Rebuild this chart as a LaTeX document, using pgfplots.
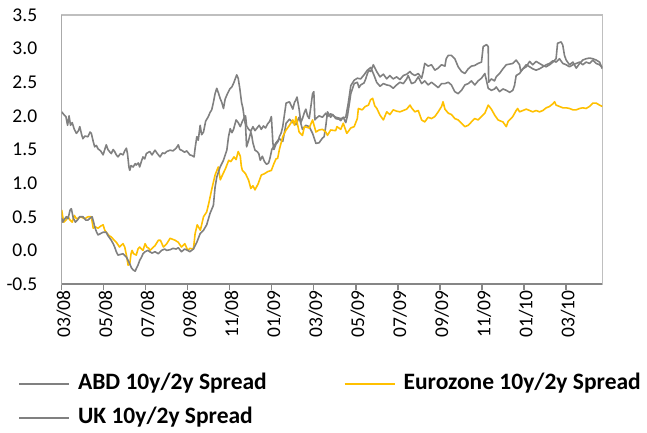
\documentclass[border=0pt]{standalone}
\usepackage{pgfplots}
\pgfplotsset{compat=1.18}
\usepackage{fontspec}
\setmainfont{Carlito}
\definecolor{sergray}{HTML}{808080}
\definecolor{sergold}{HTML}{FFC000}
\definecolor{axdark}{HTML}{868686}
\definecolor{axlight}{HTML}{BFBFBF}
\begin{document}
\begin{tikzpicture}
\path[use as bounding box] (0,0) rectangle (647pt,432pt);
\begin{axis}[
 at={(61.7pt,148pt)}, anchor=south west,
 width=540.6pt, height=269pt, scale only axis,
 xmin=0, xmax=25.73, ymin=-0.5, ymax=3.5,
 axis line style={draw=axlight, line width=1.2pt},
 xtick={0,2,...,24},
 xticklabels={03/08,05/08,07/08,09/08,11/08,01/09,03/09,05/09,07/09,09/09,11/09,01/10,03/10},
 ytick={-0.5,0,0.5,1,1.5,2,2.5,3,3.5},
 yticklabels={-0.5,0.0,0.5,1.0,1.5,2.0,2.5,3.0,3.5},
 xtick pos=bottom, tick align=outside,
 major tick length=6pt,
 xtick style={draw=axdark, line width=1.3pt},
 ytick style={draw=none},
 ticklabel style={font=\fontsize{19.5}{23}\selectfont, text=black},
 xticklabel style={rotate=90, anchor=east, xshift=3pt, yshift=-2pt},
 yticklabel style={xshift=-15pt},
 legend columns=2,
 legend cell align=left,
 legend style={at={(-0.0808,-0.327)}, anchor=north west, draw=none, fill=none,
   inner sep=0pt, column sep=8pt, row sep=11pt,
   font=\fontsize{23.5}{28}\selectfont\bfseries,
   nodes={inner sep=0pt, text height=17pt, text depth=6pt},
   /tikz/every even column/.append style={column sep=77pt}},
 legend image code/.code={\draw[#1, line width=1.8pt] (0pt,0pt) -- (50pt,0pt);},
 legend image post style={line width=1.8pt},
 every axis plot/.append style={line width=1.6pt, line join=round},
]
\addplot[sergray] coordinates {(0,2.06)(0.1,2.02)(0.2,1.99)(0.28,1.86)(0.35,2.0)(0.42,1.86)(0.5,1.9)(0.6,1.8)(0.7,1.74)(0.8,1.78)(0.86,1.84)(0.95,1.72)(1.01,1.66)(1.1,1.7)(1.25,1.69)(1.35,1.76)(1.41,1.74)(1.5,1.62)(1.57,1.54)(1.65,1.56)(1.73,1.51)(1.85,1.48)(1.97,1.42)(2.05,1.5)(2.12,1.57)(2.2,1.5)(2.3,1.46)(2.36,1.44)(2.45,1.5)(2.52,1.47)(2.6,1.42)(2.68,1.39)(2.8,1.44)(2.92,1.42)(3.0,1.48)(3.08,1.52)(3.13,1.44)(3.2,1.24)(3.24,1.19)(3.3,1.26)(3.4,1.24)(3.5,1.29)(3.55,1.27)(3.65,1.3)(3.71,1.24)(3.8,1.33)(3.87,1.39)(3.95,1.36)(4.03,1.44)(4.19,1.47)(4.3,1.42)(4.44,1.49)(4.55,1.44)(4.68,1.39)(4.8,1.45)(4.9,1.44)(5.0,1.47)(5.16,1.49)(5.3,1.48)(5.45,1.52)(5.55,1.57)(5.62,1.5)(5.7,1.49)(5.85,1.46)(5.95,1.48)(6.1,1.42)(6.2,1.41)(6.3,1.39)(6.35,1.52)(6.43,1.69)(6.5,1.64)(6.59,1.86)(6.66,1.72)(6.75,1.76)(6.85,1.92)(6.98,1.99)(7.06,2.05)(7.14,2.09)(7.22,2.2)(7.3,2.33)(7.38,2.41)(7.46,2.34)(7.54,2.26)(7.62,2.2)(7.7,2.11)(7.78,2.25)(7.86,2.31)(8.0,2.4)(8.1,2.43)(8.2,2.5)(8.33,2.61)(8.4,2.56)(8.48,2.4)(8.56,2.2)(8.62,2.12)(8.7,1.95)(8.75,1.86)(8.8,1.54)(8.9,1.64)(9.0,1.76)(9.05,1.7)(9.1,1.6)(9.2,1.49)(9.3,1.47)(9.38,1.44)(9.45,1.34)(9.55,1.4)(9.65,1.32)(9.75,1.28)(9.85,1.3)(9.92,1.38)(10.0,1.5)(10.1,1.55)(10.2,1.6)(10.36,1.66)(10.52,1.62)(10.6,1.75)(10.68,1.89)(10.84,1.95)(11.0,1.9)(11.15,1.87)(11.3,1.98)(11.46,1.8)(11.62,1.86)(11.78,1.84)(11.94,1.74)(12.1,1.59)(12.25,1.6)(12.41,1.67)(12.49,1.69)(12.57,1.85)(12.65,2.06)(12.8,1.98)(12.9,2.02)(13.04,1.96)(13.2,1.95)(13.28,1.93)(13.4,1.98)(13.52,1.9)(13.6,2.0)(13.7,2.2)(13.76,2.33)(13.92,2.48)(14.07,2.5)(14.15,2.42)(14.23,2.46)(14.39,2.49)(14.47,2.55)(14.55,2.63)(14.62,2.68)(14.71,2.66)(14.83,2.76)(14.99,2.66)(15.15,2.58)(15.31,2.62)(15.47,2.55)(15.62,2.6)(15.78,2.55)(15.94,2.58)(16.1,2.54)(16.26,2.6)(16.42,2.62)(16.58,2.66)(16.65,2.63)(16.81,2.6)(16.97,2.63)(17.13,2.56)(17.2,2.65)(17.28,2.78)(17.44,2.74)(17.6,2.76)(17.76,2.68)(17.92,2.71)(18.08,2.76)(18.24,2.74)(18.3,2.85)(18.4,2.9)(18.55,2.9)(18.71,2.85)(18.87,2.73)(19.03,2.66)(19.19,2.63)(19.35,2.7)(19.5,2.74)(19.66,2.75)(19.82,2.78)(19.98,2.8)(20.06,3.03)(20.22,3.06)(20.3,3.03)(20.32,2.5)(20.45,2.55)(20.6,2.52)(20.68,2.58)(20.84,2.63)(21.0,2.7)(21.16,2.76)(21.32,2.77)(21.47,2.78)(21.63,2.83)(21.79,2.76)(21.85,2.66)(21.95,2.7)(22.11,2.73)(22.27,2.81)(22.42,2.76)(22.58,2.81)(22.74,2.78)(22.9,2.75)(23.06,2.73)(23.22,2.76)(23.38,2.8)(23.53,2.85)(23.6,3.08)(23.77,3.1)(23.85,3.05)(23.93,2.9)(24.01,2.83)(24.17,2.76)(24.33,2.8)(24.49,2.71)(24.65,2.78)(24.8,2.83)(24.96,2.85)(25.12,2.86)(25.28,2.85)(25.44,2.83)(25.6,2.8)(25.73,2.7)};
\addlegendentry{ABD 10y/2y Spread}
\addplot[sergold] coordinates {(0,0.6)(0.05,0.5)(0.1,0.42)(0.2,0.45)(0.3,0.5)(0.4,0.45)(0.5,0.42)(0.6,0.52)(0.7,0.47)(0.8,0.48)(0.9,0.5)(1.1,0.47)(1.25,0.5)(1.41,0.5)(1.5,0.33)(1.6,0.35)(1.73,0.33)(1.85,0.36)(1.97,0.38)(2.05,0.3)(2.12,0.27)(2.25,0.22)(2.36,0.2)(2.5,0.15)(2.6,0.12)(2.75,0.05)(2.85,0.08)(2.92,0.1)(3.0,0.05)(3.08,-0.07)(3.16,-0.22)(3.24,-0.2)(3.3,-0.05)(3.35,0.0)(3.42,-0.05)(3.55,-0.07)(3.63,0.02)(3.71,0.05)(3.8,0.02)(3.87,0.0)(3.97,0.1)(4.05,0.05)(4.15,0.03)(4.2,0.0)(4.44,0.07)(4.6,0.15)(4.7,0.15)(4.84,0.05)(5.0,0.1)(5.16,0.18)(5.4,0.15)(5.55,0.12)(5.7,0.05)(5.86,0.1)(6.0,0.0)(6.1,0.03)(6.27,0.02)(6.35,0.25)(6.45,0.38)(6.6,0.3)(6.75,0.5)(6.9,0.57)(7.0,0.7)(7.15,0.92)(7.3,1.12)(7.45,1.24)(7.55,1.05)(7.65,1.12)(7.8,1.22)(7.95,1.34)(8.05,1.32)(8.2,1.39)(8.3,1.35)(8.4,1.47)(8.5,1.4)(8.55,1.25)(8.6,1.19)(8.75,1.14)(8.9,1.04)(9.0,0.92)(9.1,0.96)(9.2,0.9)(9.35,0.99)(9.5,1.12)(9.65,1.14)(9.8,1.17)(9.98,1.19)(10.1,1.29)(10.2,1.36)(10.28,1.37)(10.36,1.5)(10.52,1.69)(10.68,1.79)(10.84,1.86)(11.0,1.94)(11.08,1.86)(11.15,1.99)(11.22,1.88)(11.3,1.76)(11.46,1.71)(11.55,1.84)(11.78,1.82)(11.94,1.94)(12.1,1.76)(12.25,1.79)(12.41,1.8)(12.57,1.76)(12.65,1.71)(12.8,1.79)(13.04,1.78)(13.1,1.84)(13.28,1.8)(13.4,1.89)(13.57,1.74)(13.76,1.82)(13.92,1.84)(14.07,1.96)(14.12,2.11)(14.3,2.09)(14.45,2.14)(14.6,2.16)(14.7,2.24)(14.8,2.26)(14.9,2.15)(15.0,2.11)(15.15,2.01)(15.31,1.94)(15.47,2.06)(15.62,2.02)(15.78,2.09)(15.94,2.07)(16.1,2.06)(16.26,2.08)(16.42,2.1)(16.58,2.16)(16.65,2.12)(16.81,2.06)(16.97,2.08)(17.13,1.94)(17.28,1.91)(17.44,1.98)(17.6,1.96)(17.76,1.99)(17.92,2.06)(18.08,2.14)(18.15,2.21)(18.24,2.1)(18.4,2.04)(18.55,2.02)(18.71,1.96)(18.87,1.94)(19.03,1.89)(19.19,1.84)(19.35,1.86)(19.5,1.91)(19.66,1.96)(19.82,1.94)(19.98,1.99)(20.14,2.04)(20.3,2.16)(20.45,2.1)(20.61,2.01)(20.77,1.94)(20.84,1.93)(21.0,1.91)(21.16,1.84)(21.25,1.92)(21.32,1.94)(21.47,1.99)(21.63,2.08)(21.7,2.11)(21.79,2.06)(21.95,2.08)(22.11,2.1)(22.27,2.08)(22.42,2.06)(22.58,2.08)(22.74,2.06)(22.9,2.08)(23.06,2.12)(23.22,2.14)(23.38,2.18)(23.46,2.21)(23.53,2.16)(23.69,2.14)(23.85,2.12)(24.01,2.12)(24.17,2.11)(24.33,2.09)(24.49,2.09)(24.65,2.11)(24.8,2.12)(24.96,2.11)(25.12,2.14)(25.28,2.19)(25.44,2.19)(25.6,2.16)(25.73,2.14)};
\addlegendentry{Eurozone 10y/2y Spread}
\addplot[sergray] coordinates {(0,0.48)(0.05,0.42)(0.1,0.45)(0.22,0.5)(0.3,0.47)(0.4,0.6)(0.46,0.62)(0.55,0.48)(0.65,0.42)(0.75,0.45)(0.85,0.5)(1.01,0.5)(1.15,0.45)(1.25,0.45)(1.35,0.48)(1.45,0.5)(1.52,0.42)(1.57,0.35)(1.65,0.28)(1.73,0.23)(1.85,0.25)(1.97,0.27)(2.12,0.27)(2.2,0.22)(2.36,0.15)(2.45,0.1)(2.52,0.05)(2.6,-0.02)(2.68,-0.07)(2.8,-0.06)(2.92,-0.05)(3.08,-0.1)(3.16,-0.15)(3.24,-0.2)(3.32,-0.26)(3.4,-0.29)(3.5,-0.31)(3.55,-0.27)(3.63,-0.22)(3.71,-0.15)(3.8,-0.1)(3.87,-0.05)(3.97,-0.02)(4.1,0.0)(4.19,-0.02)(4.3,-0.04)(4.44,-0.02)(4.6,-0.05)(4.75,0.0)(4.9,0.02)(5.0,0.0)(5.16,0.01)(5.3,0.03)(5.45,0.02)(5.55,0.04)(5.7,-0.02)(5.85,0.02)(6.0,0.0)(6.1,-0.02)(6.27,0.02)(6.43,0.12)(6.59,0.25)(6.75,0.3)(6.9,0.38)(7.06,0.55)(7.22,0.67)(7.3,0.94)(7.38,1.09)(7.54,1.24)(7.7,1.34)(7.86,1.49)(7.94,1.69)(8.02,1.81)(8.1,1.75)(8.18,1.8)(8.3,1.94)(8.4,1.9)(8.5,1.84)(8.6,1.92)(8.7,1.98)(8.75,2.0)(8.8,1.85)(8.9,1.8)(9.0,1.77)(9.1,1.84)(9.2,1.78)(9.3,1.82)(9.4,1.86)(9.5,1.8)(9.6,1.85)(9.7,1.82)(9.8,1.88)(9.9,1.92)(9.98,1.99)(10.05,1.6)(10.1,1.5)(10.2,1.58)(10.3,1.62)(10.36,1.69)(10.45,1.75)(10.52,1.84)(10.68,2.19)(10.84,2.21)(11.0,2.1)(11.08,2.2)(11.15,2.24)(11.2,2.28)(11.3,2.1)(11.38,1.9)(11.46,1.96)(11.55,2.05)(11.62,2.1)(11.7,2.0)(11.78,1.96)(11.86,2.14)(11.94,2.33)(12.0,2.36)(12.05,1.94)(12.1,1.96)(12.25,2.0)(12.41,1.98)(12.57,2.04)(12.65,1.99)(12.8,2.03)(13.04,1.98)(13.28,1.96)(13.52,1.98)(13.64,2.19)(13.76,2.45)(13.92,2.53)(14.07,2.56)(14.23,2.55)(14.39,2.61)(14.55,2.68)(14.71,2.72)(14.87,2.6)(14.99,2.5)(15.15,2.44)(15.31,2.48)(15.47,2.46)(15.62,2.45)(15.78,2.41)(15.94,2.46)(16.1,2.5)(16.26,2.48)(16.42,2.55)(16.49,2.6)(16.65,2.48)(16.81,2.5)(16.97,2.58)(17.13,2.48)(17.28,2.52)(17.44,2.46)(17.6,2.5)(17.76,2.46)(17.92,2.42)(18.08,2.48)(18.24,2.48)(18.4,2.5)(18.55,2.46)(18.71,2.36)(18.87,2.33)(19.03,2.38)(19.19,2.46)(19.35,2.48)(19.5,2.52)(19.66,2.46)(19.82,2.52)(19.98,2.56)(20.14,2.63)(20.3,2.41)(20.45,2.38)(20.6,2.4)(20.68,2.43)(20.84,2.36)(21.0,2.4)(21.16,2.38)(21.32,2.35)(21.47,2.38)(21.55,2.45)(21.63,2.6)(21.79,2.63)(21.95,2.7)(22.11,2.76)(22.27,2.73)(22.42,2.7)(22.58,2.68)(22.74,2.7)(22.9,2.73)(23.06,2.76)(23.22,2.78)(23.38,2.82)(23.53,2.8)(23.69,2.85)(23.85,2.78)(24.01,2.76)(24.17,2.73)(24.33,2.76)(24.49,2.78)(24.65,2.8)(24.8,2.76)(24.96,2.8)(25.12,2.78)(25.28,2.83)(25.44,2.78)(25.6,2.76)(25.73,2.72)};
\addlegendentry{UK 10y/2y Spread}
\draw[axdark, line width=1.5pt] (rel axis cs:0,1) -- (rel axis cs:0,0) -- (rel axis cs:1,0);
\end{axis}
\end{tikzpicture}
\end{document}
